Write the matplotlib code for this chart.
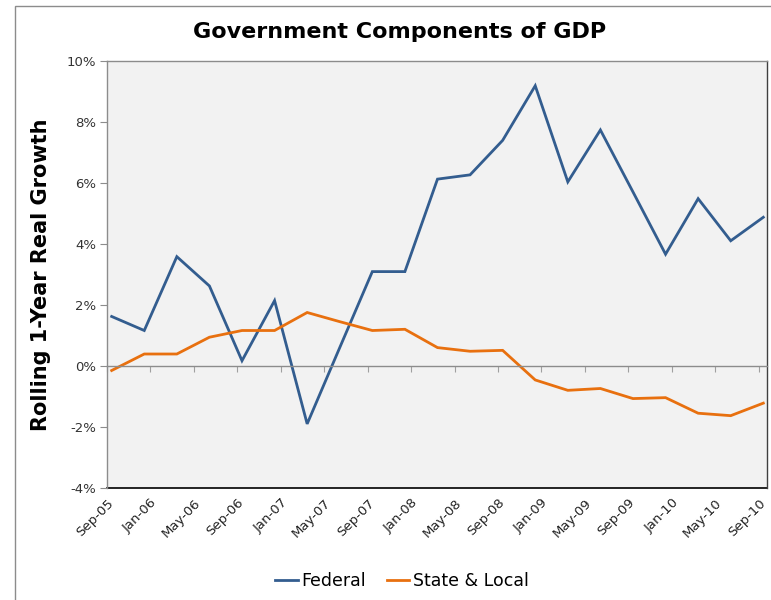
import numpy as np
import matplotlib.pyplot as plt
from matplotlib.patches import Rectangle
from matplotlib.ticker import FuncFormatter

# quarterly rolling 1-year real growth, Sep-05 .. Sep-10 (%)
quarters = ['Sep-05', 'Dec-05', 'Mar-06', 'Jun-06', 'Sep-06', 'Dec-06', 'Mar-07',
            'Jun-07', 'Sep-07', 'Dec-07', 'Mar-08', 'Jun-08', 'Sep-08', 'Dec-08',
            'Mar-09', 'Jun-09', 'Sep-09', 'Dec-09', 'Mar-10', 'Jun-10', 'Sep-10']
federal = [1.62, 1.16, 3.58, 2.62, 0.17, 2.14, -1.90, 0.60, 3.09, 3.09, 6.12,
           6.26, 7.39, 9.18, 6.03, 7.73, 5.70, 3.66, 5.48, 4.10, 4.87]
state_local = [-0.15, 0.39, 0.39, 0.94, 1.16, 1.16, 1.75, 1.45, 1.16, 1.20, 0.60,
               0.48, 0.51, -0.46, -0.80, -0.74, -1.07, -1.04, -1.55, -1.63, -1.22]

tick_labels = ['Sep-05', 'Jan-06', 'May-06', 'Sep-06', 'Jan-07', 'May-07', 'Sep-07',
               'Jan-08', 'May-08', 'Sep-08', 'Jan-09', 'May-09', 'Sep-09', 'Jan-10',
               'May-10', 'Sep-10']

# months since Sep-05; points sit mid-month on a monthly date axis
x = 3 * np.arange(len(quarters)) + 0.43
tick_pos = 4 * np.arange(len(tick_labels))

fig = plt.figure(figsize=(7.71, 6.0), dpi=100)
fig.patches.append(Rectangle((15 / 771, -0.05), 1.0, 1.0 - 6 / 600 + 0.05,
                             transform=fig.transFigure, fill=False,
                             edgecolor='#8c8c8c', linewidth=1.0))

ax = fig.add_axes([107 / 771, 112 / 600, 660 / 771, 427.3 / 600])
ax.set_facecolor('#f2f2f2')

ax.plot(x, federal, color='#335d8f', linewidth=2.0, label='Federal',
        solid_joinstyle='miter')
ax.plot(x, state_local, color='#e8700f', linewidth=2.0, label='State & Local',
        solid_joinstyle='miter')

ax.set_xlim(0, 60.77)
ax.set_ylim(-4, 10)
ax.set_yticks(np.arange(-4, 11, 2))
ax.yaxis.set_major_formatter(FuncFormatter(lambda v, p: f'{v:.0f}%'))
ax.tick_params(axis='y', direction='out', length=5, color='#8c8c8c',
               labelsize=9.5, labelcolor='#333333', pad=3)

# zero line carries the category tick marks
ax.spines['bottom'].set_position(('data', 0))
ax.spines['bottom'].set_color('#8c8c8c')
ax.set_xticks(tick_pos)
ax.tick_params(axis='x', direction='out', length=4, color='#a0a0a0',
               labelbottom=False)
ax.spines['top'].set_color('#8c8c8c')
ax.spines['left'].set_color('#8c8c8c')
ax.spines['right'].set_color('#404040')
for s in ax.spines.values():
    s.set_linewidth(1.0)

# date labels along the bottom edge of the plot area
sec = ax.secondary_xaxis(0)
sec.set_xticks(tick_pos)
sec.set_xticklabels(tick_labels, rotation=45, ha='right', rotation_mode='anchor',
                    fontsize=9.5, color='#222222')
sec.tick_params(axis='x', length=0, pad=6)
sec.spines['bottom'].set_color('#000000')
sec.spines['bottom'].set_linewidth(1.2)

ax.set_ylabel('Rolling 1-Year Real Growth', fontsize=15, fontweight='bold',
              labelpad=11)
fig.text(400 / 771, 1 - 32 / 600, 'Government Components of GDP', ha='center',
         va='center', fontsize=16, fontweight='bold')

fig.legend(loc='center', bbox_to_anchor=(402 / 771, 1 - 581 / 600), ncol=2,
           frameon=False, handlelength=1.3, handletextpad=0.2, columnspacing=1.2,
           prop={'family': ['Liberation Sans Narrow', 'DejaVu Sans'], 'size': 12.5})

fig.savefig('out.png', dpi=100)
